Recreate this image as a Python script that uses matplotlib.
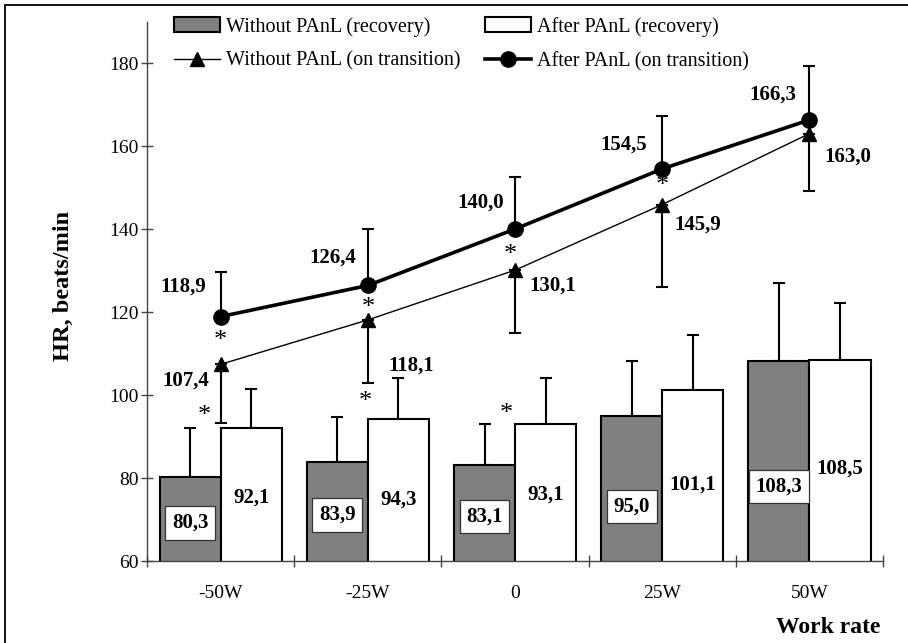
import matplotlib
matplotlib.use('Agg')
import matplotlib.pyplot as plt
import matplotlib.patches as mpatches
from matplotlib.lines import Line2D
import numpy as np

plt.rcParams['font.family'] = ['Liberation Serif', 'DejaVu Serif']

categories = ['-50W', '-25W', '0', '25W', '50W']
rec_without = [80.3, 83.9, 83.1, 95.0, 108.3]
rec_without_sd = [11.7, 10.9, 10.0, 13.2, 18.8]
rec_after = [92.1, 94.3, 93.1, 101.1, 108.5]
rec_after_sd = [9.3, 9.9, 11.0, 13.4, 13.7]
tr_without = [107.4, 118.1, 130.1, 145.9, 163.0]
tr_without_sd = [14.2, 15.3, 15.1, 19.9, 13.8]
tr_after = [118.9, 126.4, 140.0, 154.5, 166.3]
tr_after_sd = [10.8, 13.6, 12.6, 12.8, 13.0]
# significance marks: transition (after vs without), recovery
sig_tr = [True, True, True, True, False]
sig_rec = [True, True, True, False, False]

def fmt(v):
    return ('%.1f' % v).replace('.', ',')

fig = plt.figure(figsize=(9.08, 6.43), dpi=100)
ax = fig.add_axes([0.162, 0.1275, 0.8105, 0.839])

x = np.arange(len(categories))
bw = 0.415

ax.bar(x - bw / 2, rec_without, bw, color='#808080',
       edgecolor='black', linewidth=1.5, zorder=2)
ax.bar(x + bw / 2, rec_after, bw, color='white',
       edgecolor='black', linewidth=1.5, zorder=2)
ax.errorbar(x - bw / 2, rec_without, yerr=[np.zeros(5), rec_without_sd], fmt='none',
            ecolor='black', elinewidth=1.5, capsize=4.5, capthick=1.5, zorder=1)
ax.errorbar(x + bw / 2, rec_after, yerr=[np.zeros(5), rec_after_sd], fmt='none',
            ecolor='black', elinewidth=1.5, capsize=4.5, capthick=1.5, zorder=1)

ax.errorbar(x, tr_without, yerr=[tr_without_sd, np.zeros(5)], fmt='none',
            ecolor='black', elinewidth=1.5, capsize=4.5, capthick=1.5, zorder=3)
ax.errorbar(x, tr_after, yerr=[np.zeros(5), tr_after_sd], fmt='none',
            ecolor='black', elinewidth=1.5, capsize=4.5, capthick=1.5, zorder=3)
ax.plot(x, tr_without, color='black', lw=1.0, marker='^', ms=10, zorder=4)
ax.plot(x, tr_after, color='black', lw=2.6, marker='o', ms=11, zorder=5)

# value labels
bold = dict(fontsize=15, fontweight='bold', ha='center', va='center')
gray_lab_y = [69.2, 71.1, 70.7, 73.2, 77.9]
white_lab_y = [75.2, 74.7, 75.9, 78.5, 82.2]
for i in range(5):
    ax.text(x[i] - bw / 2, gray_lab_y[i], fmt(rec_without[i]), zorder=6,
            bbox=dict(boxstyle='square,pad=0.32', fc='white', ec='#333333', lw=0.9), **bold)
    ax.text(x[i] + bw / 2, white_lab_y[i], fmt(rec_after[i]), zorder=6, **bold)

circ_off = [(-37, 30), (-35, 28), (-34, 26), (-39, 24), (-37, 25)]
tri_off = [(-35, -16), (43, -46), (38, -15), (36, -20), (38, -23)]
for i in range(5):
    ax.annotate(fmt(tr_after[i]), (x[i], tr_after[i]), xytext=(circ_off[i][0] * 0.72, circ_off[i][1] * 0.72),
                textcoords='offset points', zorder=6, **bold)
    ax.annotate(fmt(tr_without[i]), (x[i], tr_without[i]), xytext=(tri_off[i][0] * 0.72, tri_off[i][1] * 0.72),
                textcoords='offset points', zorder=6, **bold)

star = dict(fontsize=19, ha='center', va='center')
star_tr_off = [(0, -24), (0, -23), (-5, -26), (0, -17), (0, 0)]
star_rec_off = [(-16, 12), (-3, 17), (-9, 10), (0, 0), (0, 0)]
for i in range(5):
    if sig_tr[i]:
        ax.annotate('*', (x[i], tr_after[i]), xytext=(star_tr_off[i][0] * 0.72, star_tr_off[i][1] * 0.72),
                    textcoords='offset points', zorder=6, **star)
    if sig_rec[i]:
        ax.annotate('*', (x[i], rec_after[i]), xytext=(star_rec_off[i][0] * 0.72, star_rec_off[i][1] * 0.72),
                    textcoords='offset points', zorder=6, **star)

ax.set_xlim(-0.5, 4.5)
ax.set_ylim(60, 190)
ax.set_yticks(np.arange(60, 181, 20))
ax.set_xticks(x)
ax.set_xticklabels(categories)
ax.set_xticks(np.arange(-0.5, 5, 1), minor=True)
ax.tick_params(axis='x', which='major', length=0, pad=17, labelsize=14)
ax.tick_params(axis='x', which='minor', length=9, direction='inout', color='#444444', width=1)
ax.tick_params(axis='y', length=9, direction='inout', pad=1.5, labelsize=14, color='#444444', width=1)
for s in ['top', 'right']:
    ax.spines[s].set_visible(False)
for s in ['left', 'bottom']:
    ax.spines[s].set_color('#444444')
    ax.spines[s].set_linewidth(1)

ax.set_ylabel('HR, beats/min', fontsize=17.5, fontweight='bold', va='center')
ax.yaxis.set_label_coords(-0.113, 0.51)
ax.set_xlabel('Work rate', fontsize=17, fontweight='bold', ha='right', va='center')
ax.xaxis.set_label_coords(0.996, -0.124)

h1 = mpatches.Patch(facecolor='#808080', edgecolor='black', lw=1.5)
h2 = mpatches.Patch(facecolor='white', edgecolor='black', lw=1.5)
h3 = Line2D([], [], color='black', lw=1.0, marker='^', ms=10)
h4 = Line2D([], [], color='black', lw=2.6, marker='o', ms=11)
ax.legend([h1, h3, h2, h4],
          ['Without PAnL (recovery)', 'Without PAnL (on transition)',
           'After PAnL (recovery)', 'After PAnL (on transition)'],
          ncol=2, frameon=False, fontsize=14.5, loc='upper left',
          bbox_to_anchor=(0.025, 1.024), handlelength=2.3, handletextpad=0.3,
          columnspacing=1.2, labelspacing=0.75, borderaxespad=0)

# outer frame (only top and left edges fall inside the picture)
fig.patches.append(mpatches.Rectangle((0.0055, -0.5), 2.0, 0.9922 + 0.5, transform=fig.transFigure,
                                      fill=False, edgecolor='black', lw=1.3))

fig.savefig('out.png', dpi=100)
